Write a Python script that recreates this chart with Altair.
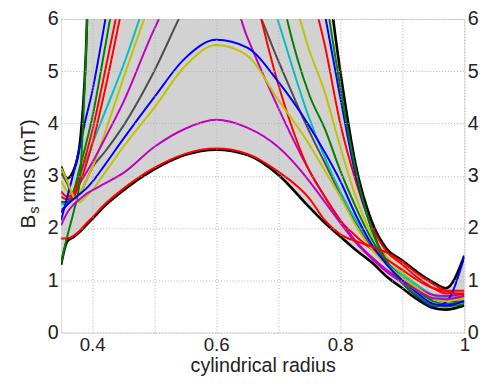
import altair as alt
import pandas as pd

# cylindrical radius grid
R = [0.35, 0.36, 0.37, 0.38, 0.39, 0.40, 0.42, 0.45, 0.50, 0.55, 0.60, 0.65,
     0.70, 0.75, 0.775, 0.80, 0.825, 0.85, 0.875, 0.90, 0.925, 0.95, 0.97, 1.00]

# envelope (grey patch) bounds
ENV_LO = [1.30, 1.75, 1.83, 1.93, 2.05, 2.17, 2.42, 2.72, 3.12, 3.40, 3.50, 3.40,
          3.02, 2.40, 2.10, 1.84, 1.58, 1.35, 1.07, 0.85, 0.63, 0.47, 0.44, 0.52]
ENV_HI = [3.18, 2.95, 3.10, 3.60, 5.35, 9.10, 13.1, 16.1, 19.1, 21.1, 21.6, 20.1,
          16.1, 9.10, 7.20, 5.00, 3.20, 2.15, 1.60, 1.38, 1.15, 0.96, 0.85, 1.47]

# individual B_s rms curves (mT)
GRAY_TALL = [3.05, 2.85, 2.60, 2.65, 2.90, 3.15, 3.45, 3.95, 5.00, 6.25, 7.30, 6.60,
             5.20, 3.85, 3.25, 2.65, 2.10, 1.65, 1.30, 1.05, 0.85, 0.65, 0.60, 0.60]
OLIVE_TALL = [2.90, 2.70, 2.60, 2.65, 2.90, 3.15, 3.80, 4.85, 6.50, 7.80, 8.40, 8.30,
              7.40, 5.40, 4.60, 3.55, 2.60, 1.90, 1.45, 1.15, 0.90, 0.70, 0.62, 0.65]
CYAN_TALL = [2.45, 2.50, 2.70, 3.00, 3.30, 3.60, 4.20, 5.10, 6.80, 8.20, 8.50, 7.80,
             5.95, 4.10, 3.35, 2.70, 2.15, 1.70, 1.35, 1.10, 0.90, 0.72, 0.66, 0.70]
MAG_TALL = [2.35, 2.45, 2.60, 2.85, 3.05, 3.25, 3.70, 4.40, 5.80, 6.90, 7.20, 5.65,
            4.30, 3.10, 2.60, 2.15, 1.75, 1.45, 1.20, 1.00, 0.85, 0.72, 0.70, 0.75]
GREEN_TALL_A = [2.50, 2.50, 2.70, 3.15, 3.60, 4.10, 5.40, 7.40, 10.0, 11.5, 12.0, 11.0,
                6.80, 4.55, 3.90, 3.10, 2.40, 1.80, 1.35, 1.05, 0.80, 0.60, 0.55, 0.60]
RED_TALL_A = [2.60, 2.55, 2.60, 2.85, 3.20, 3.60, 4.60, 6.30, 8.80, 10.0, 9.50, 7.10,
              4.75, 3.10, 2.60, 2.15, 1.85, 1.60, 1.40, 1.20, 1.00, 0.85, 0.80, 0.80]
RED_TALL_B = [2.70, 2.60, 2.65, 3.00, 3.40, 3.85, 4.95, 6.70, 9.50, 11.0, 11.5, 11.0,
              9.50, 6.70, 5.50, 4.00, 2.90, 2.05, 1.55, 1.30, 1.05, 0.85, 0.75, 0.75]
BLUE_TALL = [2.15, 2.60, 3.05, 3.55, 4.10, 4.60, 5.90, 8.00, 11.0, 13.0, 13.5, 13.0,
             11.5, 7.60, 6.10, 4.50, 3.00, 2.00, 1.35, 0.95, 0.68, 0.50, 0.58, 1.45]
GREEN_TALL_B = [1.33, 1.85, 2.30, 2.90, 5.30, 9.00, 13.0, 16.0, 19.0, 21.0, 21.5, 20.0,
                16.0, 9.00, 6.60, 4.70, 3.10, 2.00, 1.35, 0.95, 0.70, 0.52, 0.50, 0.55]
OLIVE_MID = [3.15, 2.90, 2.60, 2.50, 2.60, 2.72, 3.05, 3.55, 4.30, 5.10, 5.50, 5.30,
             4.45, 3.60, 3.10, 2.60, 2.05, 1.60, 1.30, 1.05, 0.85, 0.66, 0.60, 0.70]
BLUE_MID = [2.30, 2.45, 2.55, 2.65, 2.75, 2.88, 3.20, 3.70, 4.50, 5.25, 5.60, 5.45,
            4.80, 3.95, 3.45, 2.90, 2.25, 1.70, 1.30, 1.00, 0.75, 0.55, 0.52, 0.60]
MAG_LOW = [2.05, 2.30, 2.45, 2.55, 2.65, 2.72, 2.85, 3.05, 3.55, 3.90, 4.07, 3.92,
           3.55, 2.90, 2.50, 2.10, 1.72, 1.42, 1.16, 0.96, 0.80, 0.66, 0.64, 0.70]
RED_LOW = [1.80, 1.80, 1.85, 1.95, 2.08, 2.20, 2.45, 2.75, 3.15, 3.42, 3.52, 3.42,
           3.08, 2.57, 2.15, 1.88, 1.75, 1.65, 1.53, 1.35, 1.12, 0.93, 0.80, 0.72]

# draw order, bottom to top
SERIES = [
    ("gray_tall", GRAY_TALL, "#4d4d4d"),
    ("olive_tall", OLIVE_TALL, "#c2c200"),
    ("cyan_tall", CYAN_TALL, "#00bfbf"),
    ("mag_tall", MAG_TALL, "#bf00bf"),
    ("green_tall_a", GREEN_TALL_A, "#008000"),
    ("red_tall_a", RED_TALL_A, "#ff0000"),
    ("red_tall_b", RED_TALL_B, "#ff0000"),
    ("blue_tall", BLUE_TALL, "#0000ff"),
    ("green_tall_b", GREEN_TALL_B, "#008000"),
    ("olive_mid", OLIVE_MID, "#c2c200"),
    ("blue_mid", BLUE_MID, "#0000ff"),
    ("mag_low", MAG_LOW, "#bf00bf"),
    ("red_low", RED_LOW, "#ff0000"),
]

X_TICKS = [0.4, 0.5, 0.6, 0.7, 0.8, 0.9, 1.0]
Y_TICKS = [0, 1, 2, 3, 4, 5, 6]

FONT = "Liberation Sans"
TXT = "#222222"
xs = alt.Scale(domain=[0.35, 1.0], nice=False, zero=False)
ys = alt.Scale(domain=[0, 6], nice=False, zero=False)

x_axis = alt.Axis(
    values=X_TICKS,
    labelExpr="datum.value > 0.99 ? '1' : (indexof(['0.4','0.6','0.8'], format(datum.value, '.1f')) >= 0 ? format(datum.value, '.1f') : '')",
    grid=True, gridDash=[1, 2], gridColor="#b0b0b0", gridWidth=1,
    ticks=False, domain=False, labelFlush=False, labelOverlap=False,
    labelFont=FONT, labelFontSize=19, labelColor=TXT, labelPadding=3,
    title="cylindrical radius", titleFont=FONT, titleFontSize=20,
    titleFontWeight="normal", titleColor=TXT, titlePadding=1, zindex=1,
)
y_axis_left = alt.Axis(
    values=Y_TICKS, grid=True, gridDash=[1, 2], gridColor="#b0b0b0", gridWidth=1,
    ticks=False, domain=False, labelFlush=False, labelOverlap=False,
    labelFont=FONT, labelFontSize=20,
    labelColor=TXT, labelPadding=3, title=None, zindex=1,
)
y_axis_right = alt.Axis(
    orient="right", values=Y_TICKS, grid=False, ticks=False, domain=False,
    labelFlush=False, labelOverlap=False,
    labelFont=FONT, labelFontSize=20, labelColor=TXT, labelPadding=3,
    title=None,
)

env = pd.DataFrame({"r": R, "lo": ENV_LO, "hi": ENV_HI})

area = alt.Chart(env).mark_area(
    color="#d2d2d2", clip=True, interpolate="monotone"
).encode(
    x=alt.X("r:Q", scale=xs, axis=x_axis),
    y=alt.Y("lo:Q", scale=ys, axis=y_axis_left),
    y2="hi:Q",
)
edge_lo = alt.Chart(env).mark_line(
    color="black", strokeWidth=2.6, clip=True, interpolate="monotone"
).encode(
    x=alt.X("r:Q", scale=xs, axis=None),
    y=alt.Y("lo:Q", scale=ys, axis=None),
)
edge_hi = alt.Chart(env).mark_line(
    color="black", strokeWidth=2.6, clip=True, interpolate="monotone"
).encode(
    x=alt.X("r:Q", scale=xs, axis=None),
    y=alt.Y("hi:Q", scale=ys, axis=y_axis_right),
)

layers = [area, edge_lo, edge_hi]
for name, vals, col in SERIES:
    d = pd.DataFrame({"r": R, "b": vals})
    layers.append(
        alt.Chart(d).mark_line(
            color=col, strokeWidth=2, clip=True, interpolate="monotone"
        ).encode(
            x=alt.X("r:Q", scale=xs, axis=None),
            y=alt.Y("b:Q", scale=ys, axis=None),
        )
    )

one = pd.DataFrame({"a": [0]})
title_b = alt.Chart(one).mark_text(
    text="B", angle=270, align="left", baseline="alphabetic",
    font=FONT, fontSize=21, color=TXT
).encode(x=alt.value(-27), y=alt.value(213))
title_s = alt.Chart(one).mark_text(
    text="s", angle=270, align="left", baseline="alphabetic",
    font=FONT, fontSize=15, color=TXT
).encode(x=alt.value(-22), y=alt.value(198))
title_rest = alt.Chart(one).mark_text(
    text="rms (mT)", angle=270, align="left", baseline="alphabetic",
    font=FONT, fontSize=21, color=TXT
).encode(x=alt.value(-27), y=alt.value(187))
layers += [title_b, title_s, title_rest]

chart = alt.layer(*layers).resolve_axis(
    x="independent", y="independent"
).properties(
    width=410, height=319,
    autosize=alt.AutoSizeParams(type="none"),
    padding={"left": 54, "top": 8, "right": 21, "bottom": 43},
).configure_view(
    stroke="#8a8a8a", strokeWidth=1
).configure(background="white")

chart.save("out.html", embed_options={"renderer": "svg", "actions": False})
